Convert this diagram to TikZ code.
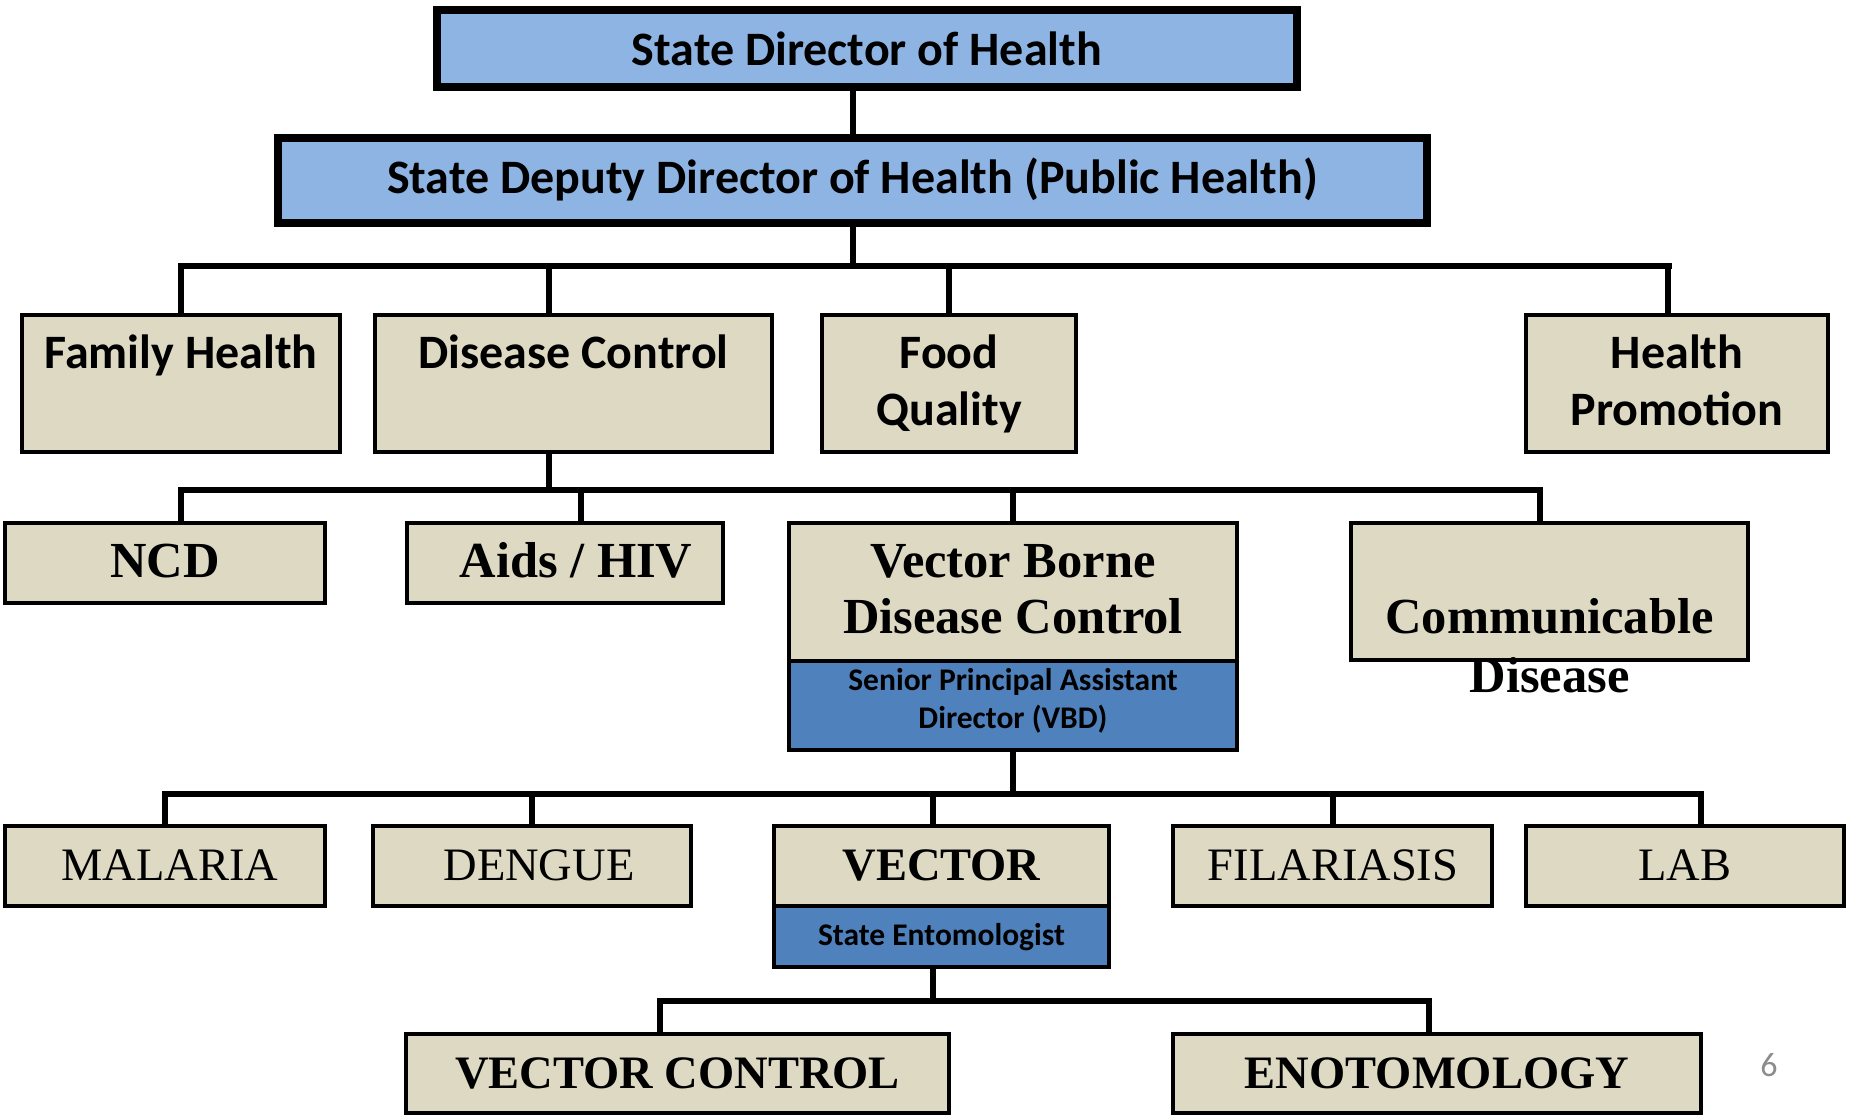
\documentclass[tikz,border=0pt]{standalone}
\usepackage{fontspec}
\newfontfamily\carl{Carlito}
\newfontfamily\tnr{Liberation Serif}
\definecolor{lblue}{RGB}{142,180,227}
\definecolor{dblue}{RGB}{79,129,189}
\definecolor{tanfill}{RGB}{221,217,195}
\definecolor{pgnum}{RGB}{140,140,140}
\tikzset{
  topbox/.style={draw=black, line width=8pt, fill=lblue, inner sep=0pt, outer sep=0pt},
  orgbox/.style={draw=black, line width=4pt, fill=tanfill, inner sep=0pt, outer sep=0pt},
  subbox/.style={orgbox, fill=dblue},
  conn/.style={draw=black, line width=6pt},
  busline/.style={conn, line cap=rect},
  sanst/.style={anchor=base, inner sep=0pt, font=\carl\bfseries\fontsize{48}{57}\selectfont},
  smallst/.style={anchor=base, inner sep=0pt, font=\carl\bfseries\fontsize{31.5}{38}\selectfont},
  serbold/.style={anchor=base, inner sep=0pt, font=\tnr\bfseries\fontsize{50.5}{60}\selectfont},
  serreg/.style={anchor=base, inner sep=0pt, font=\tnr\fontsize{46.5}{56}\selectfont},
  serboldb/.style={anchor=base, inner sep=0pt, font=\tnr\bfseries\fontsize{46.5}{56}\selectfont}
}
\begin{document}
\begin{tikzpicture}[x=1pt,y=-1pt]
\useasboundingbox[fill=white] (0,0) rectangle (1855,1117);

% ---- boxes ----
\node[topbox, minimum width=860pt, minimum height=77pt] (b1) at (867,48.5) {};
\node[topbox, minimum width=1149pt, minimum height=85pt] (b2) at (852.5,180.5) {};

\node[orgbox, minimum width=318pt, minimum height=137pt] (famh) at (181,383.5) {};
\node[orgbox, minimum width=397pt, minimum height=137pt] (disc) at (573.5,383.5) {};
\node[orgbox, minimum width=254pt, minimum height=137pt] (food) at (949,383.5) {};
\node[orgbox, minimum width=302pt, minimum height=137pt] (hpro) at (1677,383.5) {};

\node[orgbox, minimum width=320pt, minimum height=80pt] (ncd) at (165,563) {};
\node[orgbox, minimum width=316pt, minimum height=80pt] (aids) at (565,563) {};
\node[orgbox, minimum width=448pt, minimum height=138pt] (vbd) at (1013,592) {};
\node[subbox, minimum width=448pt, minimum height=89pt] (spad) at (1013,705.5) {};
\node[orgbox, minimum width=397pt, minimum height=137pt] (comm) at (1549.5,591.5) {};

\node[orgbox, minimum width=320pt, minimum height=80pt] (mal) at (165,866) {};
\node[orgbox, minimum width=318pt, minimum height=80pt] (den) at (532,866) {};
\node[orgbox, minimum width=335pt, minimum height=80pt] (vec) at (941.5,866) {};
\node[subbox, minimum width=335pt, minimum height=61pt] (ento) at (941.5,936.5) {};
\node[orgbox, minimum width=319pt, minimum height=80pt] (fil) at (1332.5,866) {};
\node[orgbox, minimum width=318pt, minimum height=80pt] (lab) at (1685,866) {};

\node[orgbox, minimum width=543pt, minimum height=79pt] (vc) at (677.5,1073.5) {};
\node[orgbox, minimum width=528pt, minimum height=79pt] (eno) at (1437,1073.5) {};

% ---- connectors ----
\draw[conn] (b1.south -| b2.north) -- (b2.north);

\coordinate (bus1L) at (181,266);
\coordinate (bus1R) at (1669,266);
\draw[busline] (bus1L) -- (bus1R);
\draw[conn] (b2.south) -- (b2.south |- bus1L);
\draw[conn] (famh.north |- bus1L) -- (famh.north);
\draw[conn] ([xshift=-24.5pt]disc.north |- bus1L) -- ([xshift=-24.5pt]disc.north);
\draw[conn] (food.north |- bus1L) -- (food.north);
\draw[conn] ([xshift=-9pt]hpro.north |- bus1L) -- ([xshift=-9pt]hpro.north);

\coordinate (bus2L) at (181,490);
\coordinate (bus2R) at (1540,490);
\draw[busline] (bus2L) -- (bus2R);
\draw[conn] ([xshift=-24.5pt]disc.south) -- ([xshift=-24.5pt]disc.south |- bus2L);
\draw[conn] ([xshift=16pt]ncd.north |- bus2L) -- ([xshift=16pt]ncd.north);
\draw[conn] ([xshift=16pt]aids.north |- bus2L) -- ([xshift=16pt]aids.north);
\draw[conn] (vbd.north |- bus2L) -- (vbd.north);
\draw[conn] ([xshift=-9.5pt]comm.north |- bus2L) -- ([xshift=-9.5pt]comm.north);

\coordinate (bus3L) at (165,794);
\coordinate (bus3R) at (1701,794);
\draw[busline] (bus3L) -- (bus3R);
\draw[conn] (spad.south) -- (spad.south |- bus3L);
\draw[conn] (mal.north |- bus3L) -- (mal.north);
\draw[conn] (den.north |- bus3L) -- (den.north);
\draw[conn] ([xshift=-8.5pt]vec.north |- bus3L) -- ([xshift=-8.5pt]vec.north);
\draw[conn] (fil.north |- bus3L) -- (fil.north);
\draw[conn] ([xshift=16pt]lab.north |- bus3L) -- ([xshift=16pt]lab.north);

\coordinate (bus4L) at (660,1001);
\coordinate (bus4R) at (1429,1001);
\draw[busline] (bus4L) -- (bus4R);
\draw[conn] ([xshift=-8.5pt]ento.south) -- ([xshift=-8.5pt]ento.south |- bus4L);
\draw[conn] ([xshift=-17.5pt]vc.north |- bus4L) -- ([xshift=-17.5pt]vc.north);
\draw[conn] ([xshift=-8pt]eno.north |- bus4L) -- ([xshift=-8pt]eno.north);

% ---- texts ----
\node[sanst] (tb1) at (867,65) {State Director of Health};
\node[sanst] (tb2) at (852.5,193) {State Deputy Director of Health (Public Health)};
\node[sanst] (tfamh) at (181,368) {Family Health};
\node[sanst] (tdisc) at (573.5,368) {Disease Control};
\node[sanst] (tfood1) at (949,368) {Food};
\node[sanst] (tfood2) at (949,425) {Quality};
\node[sanst] (thpro1) at (1677,368) {Health};
\node[sanst] (thpro2) at (1677,425) {Promotion};

\node[serbold] (tncd) at (165,577) {NCD};
\node[serbold] (taids) at (576,577) {Aids / HIV};
\node[serbold] (tvbd1) at (1013,577) {Vector Borne};
\node[serbold] (tvbd2) at (1013,633) {Disease Control};
\node[smallst] (tspad1) at (1013,690) {Senior Principal Assistant};
\node[smallst] (tspad2) at (1013,728) {Director (VBD)};
\node[serbold] (tcomm1) at (1549.5,633) {Communicable};
\node[serbold] (tcomm2) at (1549.5,692) {Disease};

\node[serreg] (tmal) at (170,880) {MALARIA};
\node[serreg] (tden) at (539,880) {DENGUE};
\node[serboldb] (tvec) at (941.5,880) {VECTOR};
\node[smallst] (tento) at (941.5,945) {State Entomologist};
\node[serreg] (tfil) at (1333,880) {FILARIASIS};
\node[serreg] (tlab) at (1685,880) {LAB};

\node[serboldb] (tvc) at (677.5,1088) {VECTOR CONTROL};
\node[serboldb] (teno) at (1437,1088) {ENOTOMOLOGY};

\node[anchor=base, inner sep=0pt, text=pgnum, font=\carl\fontsize{34}{40}\selectfont] (pg) at (1769,1076) {6};
\end{tikzpicture}
\end{document}
